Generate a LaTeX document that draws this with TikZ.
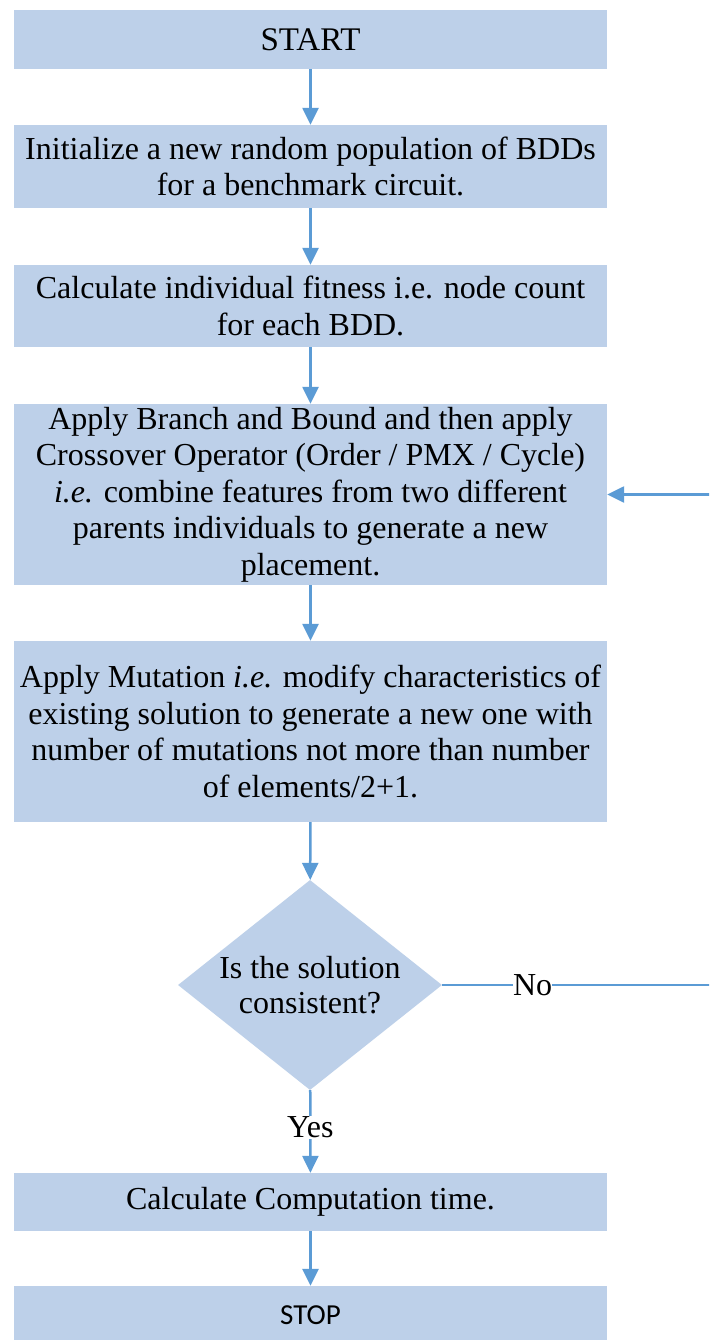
\documentclass[tikz,border=0pt]{standalone}
\usepackage{fontspec}
\setmainfont{Liberation Serif}
\newfontfamily\calibrifont{Carlito}
\usetikzlibrary{arrows.meta,shapes.geometric}
\definecolor{boxfill}{RGB}{189,208,233}
\definecolor{flowblue}{RGB}{91,155,213}
\begin{document}
\begin{tikzpicture}[x=1pt,y=-1pt,
  stepbox/.style={rectangle,fill=boxfill,draw=none,minimum width=593pt,
    inner sep=0pt,align=center,
    font=\fontsize{32}{36.5}\selectfont},
  decide/.style={diamond,fill=boxfill,draw=none,minimum width=264pt,
    minimum height=210pt,aspect=1.257,inner sep=0pt,align=center,
    font=\fontsize{32}{35}\selectfont},
  flow/.style={draw=flowblue,line width=2.5pt,
    -{Triangle[length=17pt,width=16pt]}},
  plain/.style={draw=flowblue,line width=2.5pt},
  lbl/.style={fill=white,inner sep=1pt,font=\fontsize{32}{35}\selectfont}]
\clip (0,0) rectangle (709,1340);
\fill[white] (0,0) rectangle (709,1340);

\node[stepbox,minimum height=59pt,font=\fontsize{33}{36}\selectfont]
  (start) at (310.5,39.5) {START};
\node[stepbox,minimum height=83pt]  (init)  at (310.5,166.5)
  {Initialize a new random population of BDDs\\for a benchmark circuit.};
\node[stepbox,minimum height=82pt]  (fit)   at (310.5,306)
  {Calculate individual fitness i.e. node count\\for each BDD.};
\node[stepbox,minimum height=181pt] (cross) at (310.5,494.5)
  {Apply Branch and Bound and then apply\\Crossover Operator (Order / PMX / Cycle)\\
   \textit{i.e.} combine features from two different\\parents individuals to generate a new\\placement.};
\node[stepbox,minimum height=181pt] (mut)   at (310.5,731.5)
  {Apply Mutation \textit{i.e.} modify characteristics of\\existing solution to generate a new one with\\
   number of mutations not more than number\\of elements/2+1.};
\node[decide] (dec) at (310,985) {Is the solution\\consistent?};
\node[stepbox,minimum height=58pt]  (time)  at (310.5,1202) {Calculate Computation time.};
\node[stepbox,minimum height=58pt,font=\calibrifont\fontsize{29}{32}\selectfont]
  (stop) at (310.5,1315) {STOP};

\coordinate (loop) at (716,985);

\draw[flow] (start) -- (init);
\draw[flow] (init) -- (fit);
\draw[flow] (fit) -- (cross);
\draw[flow] (cross) -- (mut);
\draw[flow] (mut) -- (dec);
\draw[flow] (dec) -- node[lbl,pos=0.45]{Yes} (time);
\draw[flow] (time) -- (stop);
\draw[plain] (dec.east) -- node[lbl,pos=0.33,inner sep=0pt]{No} (loop);
\draw[flow] (loop) |- (cross.east);
\end{tikzpicture}
\end{document}
